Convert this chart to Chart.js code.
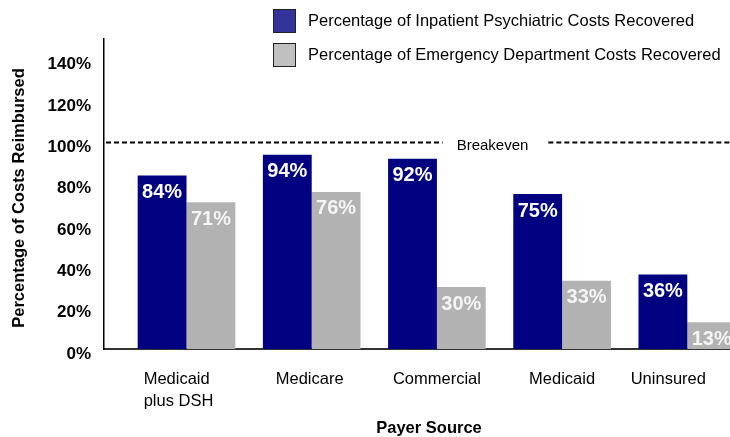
<!DOCTYPE html>
<html>
<head>
<meta charset="utf-8">
<script src="https://cdn.jsdelivr.net/npm/chart.js@4.4.0/dist/chart.umd.min.js"></script>
<style>
  html, body { margin: 0; padding: 0; background: #fff; overflow: hidden; }
  #wrap { position: relative; width: 730px; height: 437px; }
</style>
</head>
<body>
<div id="wrap"><canvas id="c"></canvas></div>
<script>
// ---- data ----
const categories = [["Medicaid", "plus DSH"], "Medicare", "Commercial", "Medicaid", "Uninsured"];
const inpatientValues = [84, 94, 92, 75, 36];
const edValues = [71, 76, 30, 33, 13];
const seriesNames = ["Percentage of Inpatient Psychiatric Costs Recovered", "Percentage of Emergency Department Costs Recovered"];
const yTicks = [0, 20, 40, 60, 80, 100, 120, 140];
const breakevenValue = 100;
const breakevenLabel = "Breakeven";
const xTitle = "Payer Source";
const yTitle = "Percentage of Costs Reimbursed";

const FONT = "'Liberation Sans', Arial, Helvetica, sans-serif";
// small horizontal nudges for category label text (style only)
const labelNudge = [-8, -2, 0, 0, -19];

const legendPlugin = {
  id: 'customLegend',
  afterDraw(chart) {
    const ctx = chart.ctx;
    const boxes = [
      { fill: '#333399', y: 9 },
      { fill: '#c0c0c0', y: 43 }
    ];
    ctx.save();
    chart.data.datasets.forEach((ds, i) => {
      const b = boxes[i];
      ctx.fillStyle = b.fill;
      ctx.fillRect(273, b.y, 22, 23);
      ctx.strokeStyle = '#222';
      ctx.lineWidth = 1;
      ctx.strokeRect(273.5, b.y + 0.5, 22, 23);
      ctx.fillStyle = '#000';
      ctx.font = "16.5px " + FONT;
      ctx.textBaseline = 'middle';
      ctx.textAlign = 'left';
      ctx.fillText(ds.label, 308, b.y + 12);
    });
    ctx.restore();
  }
};

const axisTextPlugin = {
  id: 'axisText',
  afterDraw(chart) {
    const ctx = chart.ctx;
    const xs = chart.scales.x;
    const area = chart.chartArea;
    ctx.save();
    ctx.fillStyle = '#000';
    ctx.font = "16.5px " + FONT;
    ctx.textBaseline = 'middle';
    categories.forEach((cat, i) => {
      const px = xs.getPixelForValue(i) + labelNudge[i];
      const lines = Array.isArray(cat) ? cat : [cat];
      if (lines.length > 1) {
        const w = Math.max(...lines.map(l => ctx.measureText(l).width));
        ctx.textAlign = 'left';
        lines.forEach((l, k) => ctx.fillText(l, px - w / 2, area.bottom + 30 + k * 22.5));
      } else {
        ctx.textAlign = 'center';
        ctx.fillText(lines[0], px, area.bottom + 30);
      }
    });
    // axis titles
    ctx.font = "bold 16.5px " + FONT;
    ctx.textAlign = 'center';
    ctx.fillText(xTitle, 429, 428);
    ctx.translate(19, 198);
    ctx.rotate(-Math.PI / 2);
    ctx.fillText(yTitle, 0, 0);
    ctx.restore();
  }
};

const breakevenPlugin = {
  id: 'breakeven',
  afterDatasetsDraw(chart) {
    const ctx = chart.ctx;
    const area = chart.chartArea;
    const y = Math.round(chart.scales.y.getPixelForValue(breakevenValue)) + 0.5;
    ctx.save();
    ctx.font = "15px " + FONT;
    const tw = ctx.measureText(breakevenLabel).width;
    const cx = 492.5;
    const gapL = cx - tw / 2 - 14;
    const gapR = cx + tw / 2 + 20;
    ctx.strokeStyle = '#000';
    ctx.lineWidth = 2;
    ctx.setLineDash([5, 3]);
    ctx.beginPath();
    ctx.moveTo(area.left + 2, y);
    ctx.lineTo(gapL, y);
    ctx.moveTo(gapR, y);
    ctx.lineTo(area.right, y);
    ctx.stroke();
    ctx.setLineDash([]);
    ctx.fillStyle = '#000';
    ctx.textAlign = 'center';
    ctx.textBaseline = 'middle';
    ctx.fillText(breakevenLabel, cx, y + 3);
    ctx.restore();
  }
};

const barLabelPlugin = {
  id: 'barLabels',
  afterDatasetsDraw(chart) {
    const ctx = chart.ctx;
    const area = chart.chartArea;
    ctx.save();
    ctx.beginPath();
    ctx.rect(area.left, 0, area.right - area.left, chart.height);
    ctx.clip();
    ctx.font = "bold 20px " + FONT;
    ctx.textAlign = 'center';
    ctx.textBaseline = 'alphabetic';
    chart.data.datasets.forEach((ds, di) => {
      const meta = chart.getDatasetMeta(di);
      meta.data.forEach((bar, i) => {
        ctx.fillStyle = di === 0 ? '#ffffff' : '#f4f4f4';
        ctx.fillText(ds.data[i].y + '%', bar.x, bar.y + 22.5);
      });
    });
    ctx.restore();
  }
};

new Chart(document.getElementById('c'), {
  type: 'bar',
  data: {
    datasets: [
      {
        label: seriesNames[0],
        data: inpatientValues.map((v, i) => ({ x: i, y: v })),
        backgroundColor: '#000080',
        borderWidth: 0,
        categoryPercentage: 0.78,
        barPercentage: 1.0
      },
      {
        label: seriesNames[1],
        data: edValues.map((v, i) => ({ x: i, y: v })),
        backgroundColor: '#b2b2b2',
        borderWidth: 0,
        categoryPercentage: 0.78,
        barPercentage: 1.0
      }
    ]
  },
  options: {
    responsive: true,
    maintainAspectRatio: false,
    animation: false,
    layout: { padding: { top: 39, right: 0, left: 0, bottom: 0 } },
    plugins: {
      legend: { display: false },
      tooltip: { enabled: false }
    },
    scales: {
      x: {
        type: 'linear',
        offset: false,
        min: -0.659,
        max: 4.341,
        grid: { display: false, drawTicks: false, offset: false },
        border: { display: true, color: '#333', width: 2 },
        afterBuildTicks(scale) {
          scale.ticks = categories.map((c, i) => ({ value: i }));
        },
        afterFit(scale) {
          scale.height = 88;
          scale.paddingLeft = 0;
          scale.paddingRight = 0;
        },
        ticks: { display: false },
        title: { display: false }
      },
      y: {
        min: 0,
        max: 150,
        grid: { display: false, drawTicks: false },
        border: { display: true, color: '#000', width: 1.5 },
        afterBuildTicks(scale) {
          scale.ticks = yTicks.map(v => ({ value: v }));
        },
        afterFit(scale) {
          scale.width = 104;
          scale.paddingTop = 0;
          scale.paddingBottom = 0;
        },
        ticks: {
          padding: 13,
          labelOffset: 5,
          color: '#000',
          font: { family: FONT, size: 17, weight: 'bold' },
          callback: (v) => v + '%'
        },
        title: { display: false }
      }
    }
  },
  plugins: [legendPlugin, breakevenPlugin, barLabelPlugin, axisTextPlugin]
});
</script>
</body>
</html>
